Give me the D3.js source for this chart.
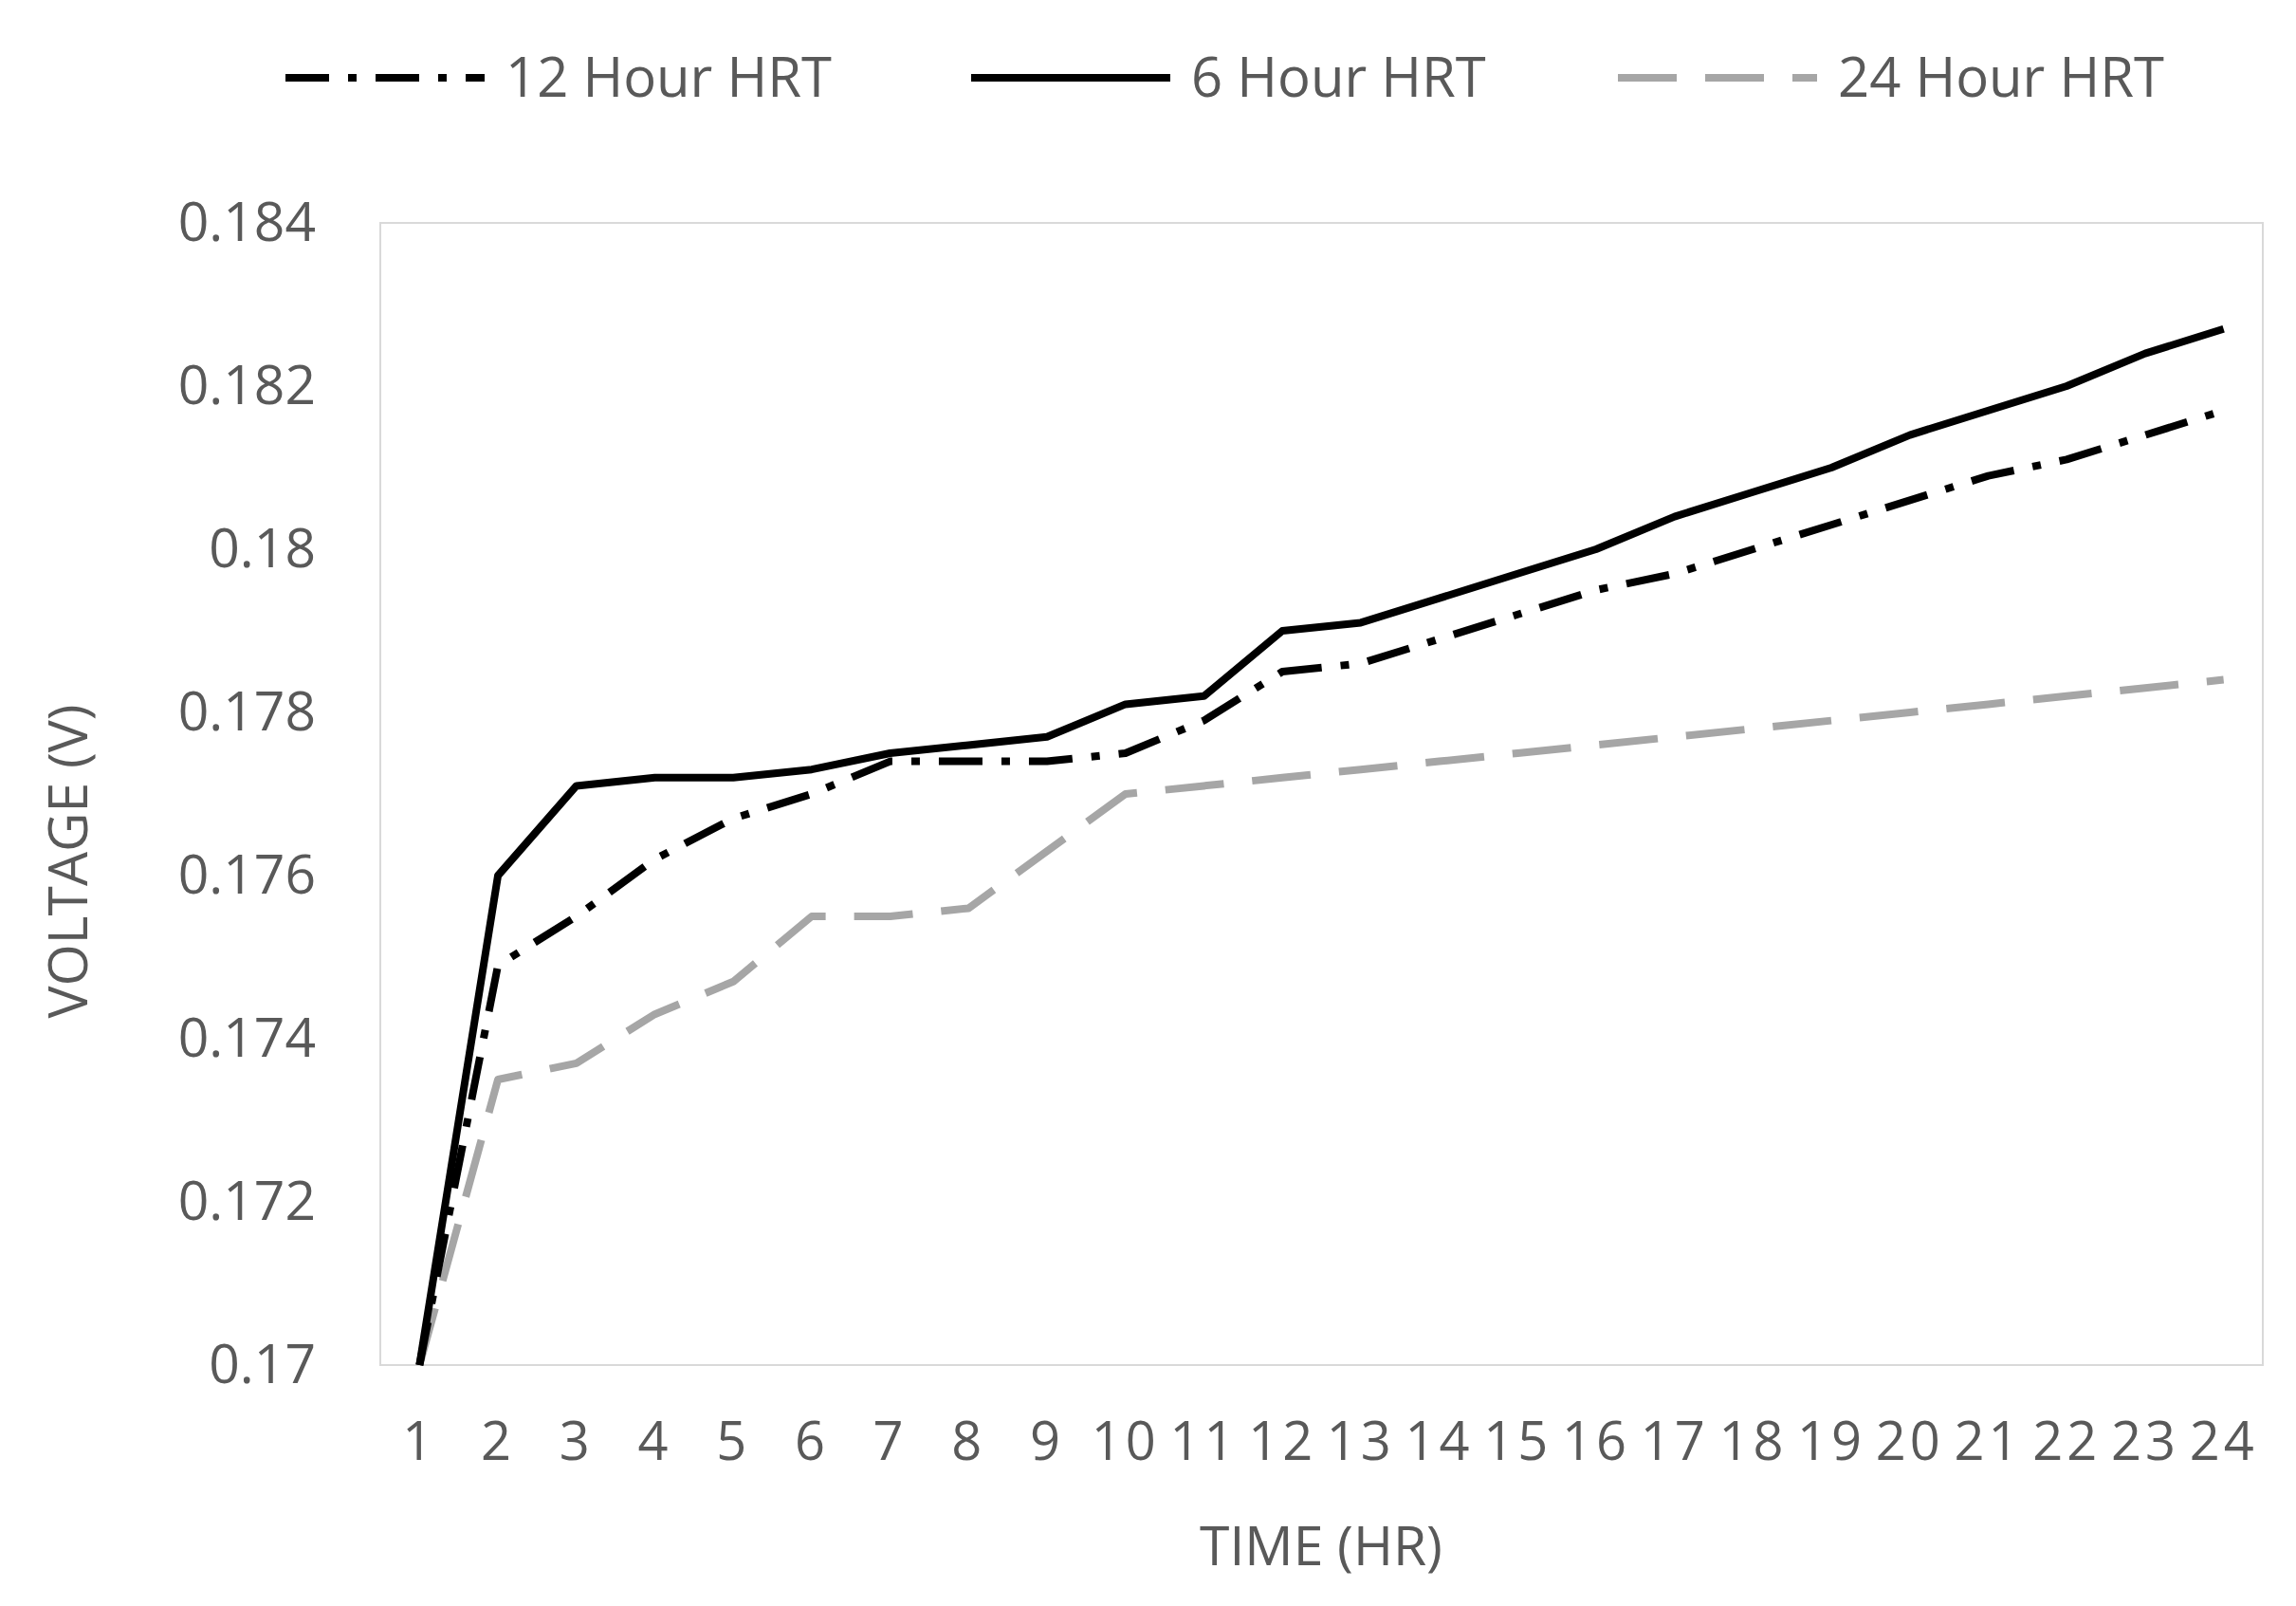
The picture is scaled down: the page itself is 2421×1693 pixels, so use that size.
<!DOCTYPE html>
<html><head><meta charset="utf-8">
<script src="https://cdn.jsdelivr.net/npm/d3@7"></script>
<style>body{margin:0;background:#fff}</style></head>
<body><svg id="c" width="2421" height="1693"></svg>
<script>
const hours = d3.range(1,25).map(String);
const h12 = [0.1700,0.1749,0.1755,0.1762,0.1767,0.1770,0.1774,0.1774,0.1774,0.1775,0.1779,0.1785,0.1786,0.1789,0.1792,0.1795,0.1797,0.1800,0.1803,0.1806,0.1809,0.1811,0.1814,0.1817];
const h6  = [0.1700,0.1760,0.1771,0.1772,0.1772,0.1773,0.1775,0.1776,0.1777,0.1781,0.1782,0.1790,0.1791,0.1794,0.1797,0.1800,0.1804,0.1807,0.1810,0.1814,0.1817,0.1820,0.1824,0.1827];
const h24 = [0.1700,0.1735,0.1737,0.1743,0.1747,0.1755,0.1755,0.1756,0.1763,0.1770,0.1771,0.1772,0.1773,0.1774,0.1775,0.1776,0.1777,0.1778,0.1779,0.1780,0.1781,0.1782,0.1783,0.1784];
const yTicks = [0.17,0.172,0.174,0.176,0.178,0.18,0.182,0.184];
const yLabels = ["0.17","0.172","0.174","0.176","0.178","0.18","0.182","0.184"];
const series = [
 {name:"12 Hour HRT", vals:h12, color:"#000", dash:"46,20,9,20"},
 {name:"6 Hour HRT", vals:h6, color:"#000", dash:null},
 {name:"24 Hour HRT", vals:h24, color:"#a6a6a6", dash:"62,30"}
];
const svg = d3.select("#c");
const L=401,R=2386,T=235,B=1439;
const x = d3.scaleBand().domain(hours).range([L,R]);
const y = d3.scaleLinear().domain([0.17,0.184]).range([B,T]);
const font="'Open Sans', 'Liberation Sans', sans-serif", tc="#595959";
svg.append("rect").attr("x",L).attr("y",T).attr("width",R-L).attr("height",B-T).attr("fill","none").attr("stroke","#d9d9d9").attr("stroke-width",2);
const ya = svg.append("g").attr("transform",`translate(${L},0)`).call(d3.axisLeft(y).tickValues(yTicks).tickFormat((d,i)=>yLabels[i]).tickSize(0).tickPadding(68));
ya.select(".domain").remove();
ya.selectAll("text").attr("font-family",font).attr("font-size",57).attr("fill",tc);
const xa = svg.append("g").attr("transform",`translate(0,${B})`).call(d3.axisBottom(x).tickSize(0).tickPadding(60));
xa.select(".domain").remove();
xa.selectAll("text").attr("font-family",font).attr("font-size",56).attr("letter-spacing",4).attr("fill",tc);
const line = d3.line().x((d,i)=>x(hours[i])+x.bandwidth()/2).y(d=>y(d));
series.slice().reverse().forEach(s=>{
 svg.append("path").datum(s.vals).attr("d",line).attr("fill","none").attr("stroke",s.color)
  .attr("stroke-width",8).attr("stroke-dasharray",s.dash).attr("stroke-linejoin","round");
});
svg.append("text").attr("transform","translate(92,908) rotate(-90)").attr("text-anchor","middle")
 .attr("font-family",font).attr("font-size",57).attr("fill",tc).text("VOLTAGE (V)");
svg.append("text").attr("x",1393).attr("y",1650).attr("text-anchor","middle")
 .attr("font-family",font).attr("font-size",57).attr("fill",tc).text("TIME (HR)");
const lx=[301,1024,1706];
series.forEach((s,i)=>{
 svg.append("line").attr("x1",lx[i]).attr("x2",lx[i]+210).attr("y1",82).attr("y2",82).attr("stroke",s.color)
  .attr("stroke-width",8).attr("stroke-dasharray",s.dash);
 svg.append("text").attr("x",lx[i]+232).attr("y",102).attr("font-family",font).attr("font-size",58).attr("fill",tc).text(s.name);
});
</script></body></html>
